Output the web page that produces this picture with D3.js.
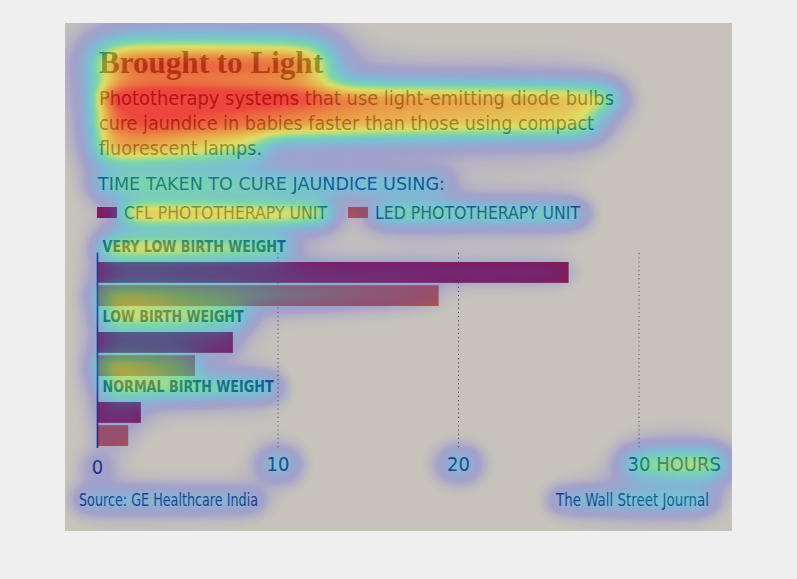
<!DOCTYPE html>
<html><head><meta charset="utf-8">
<script src="https://cdn.jsdelivr.net/npm/d3@7"></script>
<style>
html,body{margin:0;padding:0;background:#efefef;}
#wrap{position:relative;width:797px;height:579px;overflow:hidden;}
#wrap svg,#wrap canvas{position:absolute;left:0;top:0;}
canvas{pointer-events:none;}
</style></head><body>
<div id="wrap"><svg id="chart" width="797" height="579"></svg><canvas id="heat" width="797" height="579"></canvas></div>
<script>
// ---------- data ----------
const categories = ["VERY LOW BIRTH WEIGHT", "LOW BIRTH WEIGHT", "NORMAL BIRTH WEIGHT"];
const seriesNames = ["CFL PHOTOTHERAPY UNIT", "LED PHOTOTHERAPY UNIT"];
const cflHours = [26.1, 7.5, 2.4];
const ledHours = [18.9, 5.4, 1.7];
const tickValues = [0, 10, 20, 30];
const tickLabels = ["0", "10", "20", "30 HOURS"];
const titleText = "Brought to Light";
const subtitleLines = [
  "Phototherapy systems that use light-emitting diode bulbs",
  "cure jaundice in babies faster than those using compact",
  "fluorescent lamps."
];
const subheadText = "TIME TAKEN TO CURE JAUNDICE USING:";
const sourceText = "Source: GE Healthcare India";
const creditText = "The Wall Street Journal";
// eye-tracking attention overlay: element key, weight at left edge, weight at right edge
const heatKeys  = ["title","sub0","sub1","sub2","subhead","leg0","leg1","cat0","cat1","cat2","bar0-0","bar0-1","bar1-0","bar1-1","bar2-0","bar2-1","tick0","tick1","tick2","tick3","source","credit"];
const heatLeft  = [0.64, 0.58, 0.50, 0.46, 0.26, 0.44, 0.28, 0.42, 0.36, 0.34, 0.10, 0.32, 0.12, 0.36, 0.10, 0.08, 0.20, 0.26, 0.26, 0.32, 0.18, 0.18];
const heatRight = [0.60, 0.42, 0.36, 0.22, 0.18, 0.40, 0.26, 0.28, 0.28, 0.26, 0.08, 0.05, 0.10, 0.22, 0.08, 0.06, 0.20, 0.26, 0.26, 0.42, 0.16, 0.22];

// ---------- layout ----------
const W = 797, H = 579;
const panel = {x: 65, y: 23, w: 667, h: 508};
const navy = "#1e2a5a";
const barColors = ["#8c1a3e", "#b35540"];
const narrow = "'Liberation Sans Narrow','DejaVu Sans Condensed','Roboto',sans-serif";

const svg = d3.select("#chart");
svg.append("rect").attr("x", panel.x).attr("y", panel.y).attr("width", panel.w).attr("height", panel.h).attr("fill", "#c7c3bb");

const x = d3.scaleLinear().domain([0, 30]).range([97.5, 639]);
const yGroup = d3.scaleBand().domain(categories).range([240, 450]);
const ySeries = d3.scaleBand().domain(seriesNames).range([22, 66]).paddingInner(0.1);

// title
svg.append("text").attr("data-heat", "title").attr("x", 99).attr("y", 73)
  .attr("font-family", "'Liberation Serif','DejaVu Serif',serif").attr("font-weight", "bold")
  .attr("font-size", 31).attr("fill", "#23283a")
  .attr("textLength", 224).attr("lengthAdjust", "spacingAndGlyphs").text(titleText);

// subtitle
const subW = [515, 495, 163];
subtitleLines.forEach((t, i) => {
  svg.append("text").attr("data-heat", "sub" + i).attr("x", 99).attr("y", 105 + i * 25)
    .attr("font-family", narrow).attr("font-size", 20).attr("fill", "#1f2548")
    .attr("textLength", subW[i]).attr("lengthAdjust", "spacingAndGlyphs").text(t);
});

// subhead
svg.append("text").attr("data-heat", "subhead").attr("x", 98).attr("y", 190)
  .attr("font-family", narrow).attr("font-size", 18).attr("fill", navy)
  .attr("textLength", 347).attr("lengthAdjust", "spacingAndGlyphs").text(subheadText);

// legend
const legX = [97, 348], legTW = [203, 205];
seriesNames.forEach((s, i) => {
  svg.append("rect").attr("x", legX[i]).attr("y", 207).attr("width", 20).attr("height", 11).attr("fill", barColors[i]);
  svg.append("text").attr("data-heat", "leg" + i).attr("x", legX[i] + 27).attr("y", 219)
    .attr("font-family", narrow).attr("font-size", 17).attr("fill", navy)
    .attr("textLength", legTW[i]).attr("lengthAdjust", "spacingAndGlyphs").text(s);
});

// gridlines
svg.append("g").selectAll("line").data(tickValues.slice(1)).join("line")
  .attr("x1", d => x(d)).attr("x2", d => x(d)).attr("y1", 253).attr("y2", 448)
  .attr("stroke", "#4a4f66").attr("stroke-width", 1).attr("stroke-dasharray", "1.2,3");

// groups
const catW = [183, 141, 171];
const g = svg.append("g").selectAll("g").data(categories).join("g")
  .attr("transform", d => `translate(0,${yGroup(d)})`);
g.append("text").attr("data-heat", (d, i) => "cat" + i).attr("x", 102.6).attr("y", 12)
  .attr("font-family", narrow).attr("font-weight", "bold").attr("font-size", 15.5).attr("fill", navy)
  .attr("textLength", (d, i) => catW[i]).attr("lengthAdjust", "spacingAndGlyphs").text(d => d);
g.each(function(d, i) {
  const vals = [cflHours[i], ledHours[i]];
  d3.select(this).selectAll("rect").data(seriesNames).join("rect")
    .attr("data-heat", (s, j) => `bar${i}-${j}`)
    .attr("x", x(0)).attr("y", s => ySeries(s))
    .attr("width", (s, j) => x(vals[j]) - x(0)).attr("height", ySeries.bandwidth())
    .attr("fill", (s, j) => barColors[j]);
});

// axis line
svg.append("line").attr("x1", x(0)).attr("x2", x(0)).attr("y1", 252.5).attr("y2", 448)
  .attr("stroke", navy).attr("stroke-width", 1.6);

// tick labels
const tickG = svg.append("g").attr("font-family", narrow).attr("font-size", 20).attr("fill", navy);
tickValues.forEach((v, i) => {
  const t = tickG.append("text").attr("data-heat", "tick" + i).attr("y", i === 0 ? 474 : 471).text(tickLabels[i]);
  if (i === tickValues.length - 1) {
    const probe = tickG.append("text").text(String(v));
    const w = probe.node().getComputedTextLength(); probe.remove();
    t.attr("x", x(v) - w / 2);
  } else {
    t.attr("x", x(v)).attr("text-anchor", "middle");
  }
});

// footer
svg.append("text").attr("data-heat", "source").attr("x", 79).attr("y", 506)
  .attr("font-family", narrow).attr("font-size", 17).attr("fill", navy)
  .attr("textLength", 179).attr("lengthAdjust", "spacingAndGlyphs").text(sourceText);
svg.append("text").attr("data-heat", "credit").attr("x", 709).attr("y", 506).attr("text-anchor", "end")
  .attr("font-family", narrow).attr("font-size", 17).attr("fill", navy)
  .attr("textLength", 153).attr("lengthAdjust", "spacingAndGlyphs").text(creditText);

// ---------- heat overlay ----------
(function renderHeat() {
  const step = 2, gw = Math.ceil(W / step), gh = Math.ceil(H / step);
  const field = new Float32Array(gw * gh);
  function addLine(bx, cy, bw, sigma, wl, wr) {
    const spacing = 5;
    const n = Math.max(1, Math.round(bw / spacing));
    const norm = spacing / (Math.sqrt(2 * Math.PI) * sigma);
    const r = 3 * sigma, s2 = 2 * sigma * sigma;
    for (let j = 0; j <= n; j++) {
      const t = j / n;
      const px = bx + t * bw;
      const w = (wl + (wr - wl) * t) * norm;
      const x0 = Math.max(0, Math.floor((px - r) / step)), x1 = Math.min(gw - 1, Math.ceil((px + r) / step));
      const y0 = Math.max(0, Math.floor((cy - r) / step)), y1 = Math.min(gh - 1, Math.ceil((cy + r) / step));
      for (let gy = y0; gy <= y1; gy++) {
        const dy = gy * step - cy;
        for (let gx = x0; gx <= x1; gx++) {
          const dx = gx * step - px;
          field[gy * gw + gx] += w * Math.exp(-(dx * dx + dy * dy) / s2);
        }
      }
    }
  }
  heatKeys.forEach((k, i) => {
    const el = svg.select(`[data-heat="${k}"]`).node();
    if (!el) return;
    const b = el.getBBox();
    const m = el.getCTM();
    const bx = b.x + (m ? m.e : 0), by = b.y + (m ? m.f : 0);
    const sigma = Math.max(10, b.height * 0.5);
    const cy = by + b.height / 2;
    addLine(bx, cy, b.width, sigma, heatLeft[i], heatRight[i]);
    // broad, faint halo
    addLine(bx, cy, b.width, sigma * 2.4, heatLeft[i] * 0.2, heatRight[i] * 0.2);
  });
  const stops = [
    [0.015, [60, 60, 255], 0.0],
    [0.09, [60, 60, 250], 0.25],
    [0.26, [0, 180, 255], 0.38],
    [0.40, [40, 235, 150], 0.48],
    [0.54, [245, 245, 30], 0.55],
    [0.70, [255, 140, 0], 0.62],
    [0.88, [255, 10, 0], 0.68]
  ];
  function cmap(v) {
    if (v < stops[0][0]) return null;
    for (let i = 1; i < stops.length; i++) {
      if (v <= stops[i][0]) {
        const a = stops[i - 1], b = stops[i];
        const t = (v - a[0]) / (b[0] - a[0]);
        return [a[1][0] + (b[1][0] - a[1][0]) * t, a[1][1] + (b[1][1] - a[1][1]) * t, a[1][2] + (b[1][2] - a[1][2]) * t, a[2] + (b[2] - a[2]) * t];
      }
    }
    const l = stops[stops.length - 1];
    return [l[1][0], l[1][1], l[1][2], l[2]];
  }
  const off = document.createElement("canvas");
  off.width = gw; off.height = gh;
  const octx = off.getContext("2d");
  const img = octx.createImageData(gw, gh);
  for (let p = 0; p < gw * gh; p++) {
    const c = cmap(field[p]);
    if (!c) continue;
    img.data[p * 4] = c[0]; img.data[p * 4 + 1] = c[1]; img.data[p * 4 + 2] = c[2]; img.data[p * 4 + 3] = c[3] * 255;
  }
  octx.putImageData(img, 0, 0);
  const ctx = document.getElementById("heat").getContext("2d");
  ctx.save();
  ctx.beginPath(); ctx.rect(panel.x, panel.y, panel.w, panel.h); ctx.clip();
  ctx.imageSmoothingEnabled = true;
  ctx.drawImage(off, 0, 0, W, H);
  ctx.restore();
})();
</script>
</body></html>
